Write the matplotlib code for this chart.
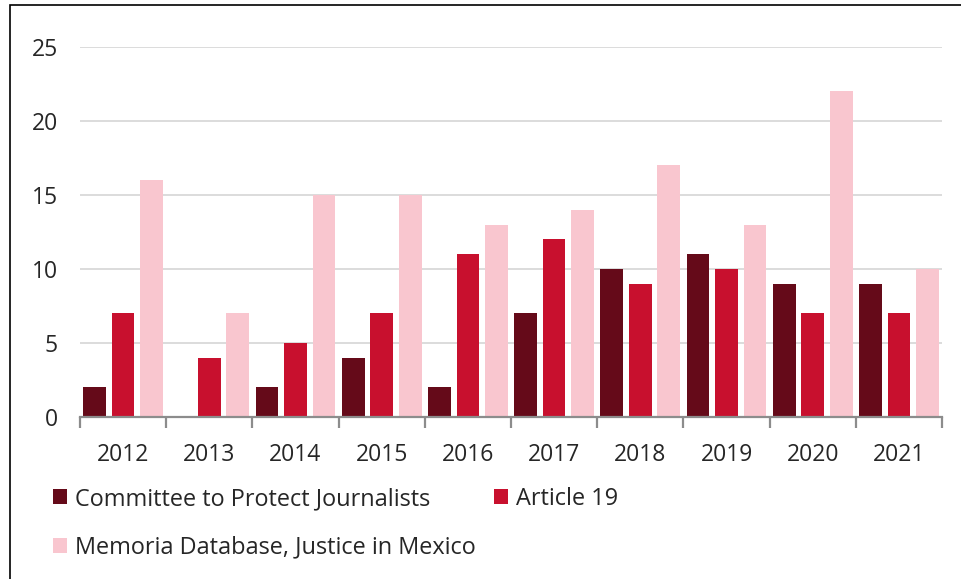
import matplotlib
matplotlib.use("Agg")
import matplotlib.pyplot as plt
import numpy as np
from matplotlib.patches import Rectangle, Patch

years = ["2012", "2013", "2014", "2015", "2016", "2017", "2018", "2019", "2020", "2021"]
cpj = [2, 0, 2, 4, 2, 7, 10, 11, 9, 9]
article19 = [7, 4, 5, 7, 11, 12, 9, 10, 7, 7]
memoria = [16, 7, 15, 15, 13, 14, 17, 13, 22, 10]
series_names = ["Committee to Protect Journalists", "Article 19", "Memoria Database, Justice in Mexico"]
colors = ["#650A19", "#C8102E", "#F9C6CF"]
yticks = [0, 5, 10, 15, 20, 25]

plt.rcParams['font.family'] = ['Open Sans', 'DejaVu Sans']
FS = 16.5
LFS = 16.9

fig = plt.figure(figsize=(9.61, 5.79), dpi=100)
ax = fig.add_axes([80/961, 1-417/579, (942-80)/961, (417-47)/579])

x = np.arange(len(years))
w = 0.263
step = 0.331
for i, (vals, c) in enumerate(zip([cpj, article19, memoria], colors)):
    ax.bar(x + (i-1)*step, vals, width=w, color=c, zorder=3)

ax.set_xlim(-0.5, len(years)-0.5)
ax.set_ylim(0, 25)
ax.set_yticks(yticks)
ax.set_yticklabels([str(t) for t in yticks])
ax.yaxis.grid(True, color="#D9D9D9", linewidth=1.3, zorder=0)
ax.tick_params(axis='y', length=0, pad=16, labelsize=FS, labelcolor="#262626")
for s in ["top", "right", "left"]:
    ax.spines[s].set_visible(False)
ax.spines["bottom"].set_color("#8C8C8C")
ax.spines["bottom"].set_linewidth(1.6)
ax.spines["bottom"].set_zorder(4)

ax.set_xticks(np.arange(len(years)+1) - 0.5, minor=False)
ax.set_xticklabels([])
ax.tick_params(axis='x', which='major', length=8, width=1.6, color="#8C8C8C", direction='out')
ax.set_xticks(x, minor=True)
ax.set_xticklabels(years, minor=True)
ax.tick_params(axis='x', which='minor', length=0, pad=19, labelsize=FS, labelcolor="#262626")

handles = [Patch(facecolor=colors[0]), Patch(facecolor=colors[2]), Patch(facecolor=colors[1])]
labels = [series_names[0], series_names[2], series_names[1]]
leg = fig.legend(handles, labels, ncol=2, loc="upper left", bbox_to_anchor=(53/961, 1-487/579),
                 frameon=False, fontsize=LFS, handlelength=0.6, handleheight=0.6,
                 handletextpad=0.35, columnspacing=0.75, labelspacing=1.05, labelcolor="#262626",
                 borderaxespad=0, borderpad=0)

fig.patches.append(Rectangle((10/961, -0.05), 1.0, 1 - 5/579 + 0.05, transform=fig.transFigure,
                             fill=False, edgecolor="black", linewidth=1.2))

fig.savefig("out.png", dpi=100)
